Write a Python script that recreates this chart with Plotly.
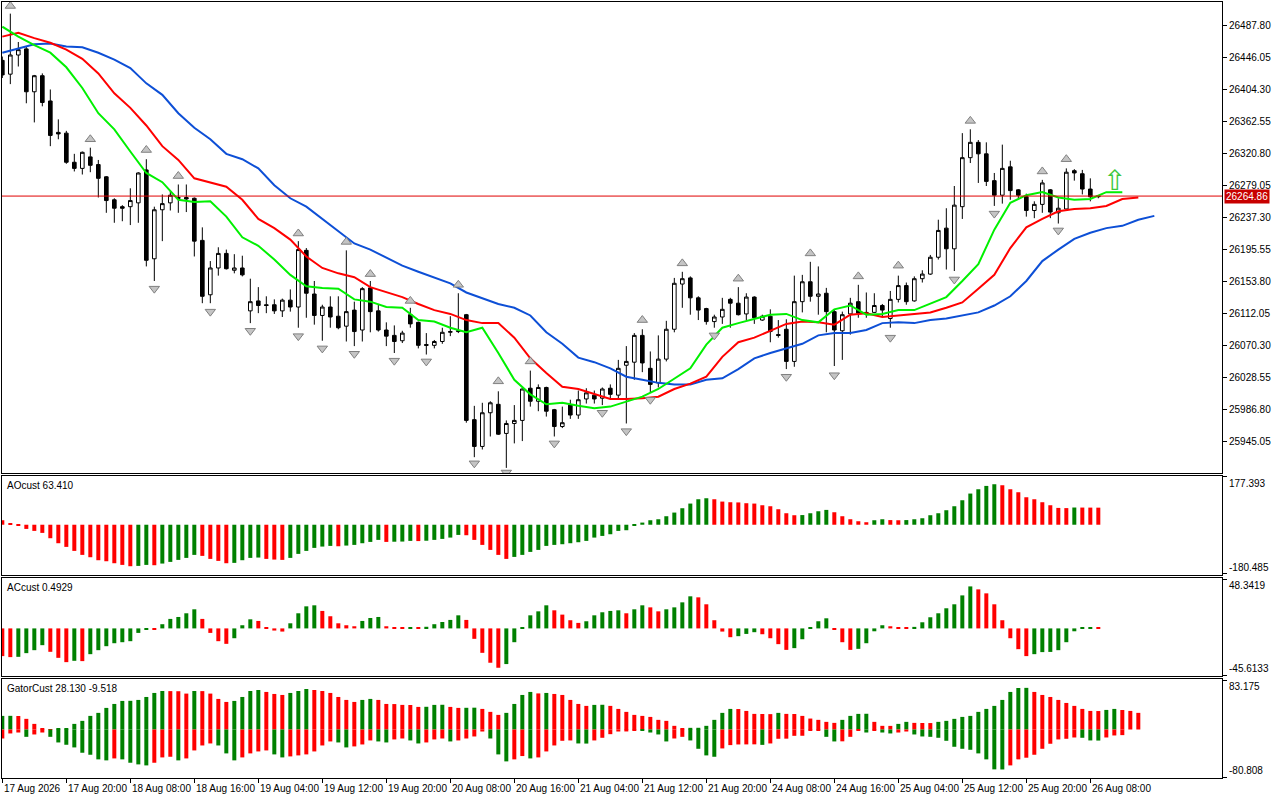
import plotly.graph_objects as go

# === price bars (H1, 138 bars) ===
open_ = [26442, 26424, 26449, 26457, 26401, 26422, 26389, 26348, 26347, 26309,
         26301, 26316, 26306, 26290, 26260, 26251, 26251, 26256, 26299, 26183,
         26247, 26256, 26263, 26263, 26262, 26207, 26136, 26171, 26190, 26168,
         26171, 26115, 26128, 26123, 26123, 26115, 26129, 26120, 26194, 26137,
         26109, 26120, 26108, 26095, 26116, 26090, 26145, 26115, 26090, 26083,
         26076, 26110, 26100, 26071, 26070, 26075, 26087, 26088, 26110, 25973,
         25938, 25982, 25993, 25955, 25968, 25972, 26014, 25997, 26015, 25986,
         25964, 25992, 25979, 26000, 26005, 26001, 26014, 26005, 26044, 26048,
         26083, 26040, 26021, 26052, 26091, 26150, 26158, 26132, 26118, 26101,
         26107, 26130, 26125, 26111, 26133, 26103, 26108, 26084, 26091, 26049,
         26127, 26153, 26134, 26138, 26114, 26089, 26111, 26127, 26113, 26113,
         26122, 26105, 26130, 26148, 26128, 26157, 26163, 26185, 26223, 26196,
         26251, 26315, 26335, 26320, 26285, 26266, 26303, 26273, 26264, 26246,
         26254, 26273, 26243, 26248, 26298, 26294, 26274, 26264]
high = [26447, 26503, 26466, 26460, 26423, 26425, 26404, 26365, 26350, 26320,
        26323, 26328, 26312, 26291, 26262, 26253, 26275, 26296, 26313, 26251,
        26267, 26272, 26280, 26280, 26263, 26224, 26180, 26198, 26195, 26189,
        26187, 26157, 26146, 26134, 26130, 26131, 26143, 26206, 26197, 26154,
        26123, 26134, 26134, 26194, 26127, 26146, 26154, 26124, 26100, 26096,
        26089, 26119, 26101, 26086, 26077, 26093, 26108, 26138, 26111, 25991,
        25995, 25997, 26010, 25972, 25992, 26014, 26037, 26019, 26016, 25987,
        25990, 25999, 26011, 26014, 26011, 26015, 26019, 26051, 26069, 26086,
        26091, 26062, 26083, 26102, 26158, 26166, 26160, 26134, 26119, 26110,
        26132, 26132, 26146, 26138, 26134, 26110, 26117, 26103, 26104, 26161,
        26162, 26179, 26173, 26145, 26116, 26114, 26132, 26149, 26139, 26138,
        26124, 26141, 26161, 26152, 26160, 26168, 26188, 26234, 26249, 26278,
        26347, 26352, 26338, 26335, 26295, 26332, 26311, 26274, 26268, 26258,
        26286, 26274, 26262, 26301, 26300, 26299, 26288, 26266]
low = [26419, 26411, 26434, 26386, 26361, 26382, 26330, 26339, 26307, 26297,
       26293, 26296, 26263, 26243, 26230, 26232, 26227, 26230, 26173, 26154,
       26206, 26246, 26243, 26244, 26186, 26125, 26125, 26161, 26169, 26164,
       26160, 26099, 26112, 26112, 26111, 26107, 26114, 26093, 26106, 26097,
       26076, 26093, 26091, 26075, 26069, 26075, 26087, 26088, 26069, 26060,
       26073, 26093, 26066, 26058, 26066, 26072, 26082, 26086, 25969, 25924,
       25934, 25951, 25953, 25910, 25942, 25945, 25990, 25984, 25977, 25951,
       25962, 25974, 25974, 25994, 25994, 25992, 26000, 26001, 25968, 26025,
       26035, 26008, 26015, 26049, 26087, 26119, 26110, 26103, 26097, 26093,
       26098, 26093, 26109, 26103, 26098, 26102, 26074, 26080, 26039, 26042,
       26113, 26127, 26110, 26087, 26043, 26051, 26084, 26106, 26106, 26112,
       26108, 26093, 26126, 26123, 26127, 26152, 26162, 26182, 26169, 26167,
       26235, 26308, 26282, 26278, 26252, 26255, 26260, 26261, 26238, 26236,
       26243, 26236, 26229, 26247, 26285, 26267, 26258, 26262]
close = [26423, 26449, 26456, 26401, 26422, 26387, 26344, 26346, 26309, 26301,
         26322, 26305, 26288, 26259, 26249, 26249, 26259, 26295, 26181, 26247,
         26255, 26266, 26262, 26261, 26206, 26134, 26171, 26190, 26170, 26171,
         26162, 26127, 26122, 26122, 26115, 26129, 26120, 26195, 26138, 26109,
         26120, 26107, 26093, 26114, 26088, 26144, 26114, 26090, 26082, 26075,
         26086, 26098, 26070, 26070, 26075, 26087, 26088, 26089, 25972, 25938,
         25982, 25995, 25954, 25968, 25972, 26013, 25997, 26015, 25984, 25964,
         25969, 25979, 25999, 26008, 26000, 26013, 26006, 26040, 26049, 26083,
         26047, 26019, 26052, 26091, 26151, 26157, 26132, 26116, 26101, 26107,
         26117, 26125, 26110, 26133, 26106, 26108, 26088, 26083, 26049, 26127,
         26153, 26134, 26137, 26114, 26090, 26110, 26125, 26112, 26112, 26122,
         26116, 26130, 26148, 26127, 26157, 26163, 26185, 26220, 26196, 26253,
         26315, 26335, 26320, 26284, 26266, 26301, 26272, 26266, 26246, 26254,
         26282, 26244, 26249, 26296, 26295, 26274, 26264, 26264.86]

# === alligator lines, read at every second bar ===
lips = [26486, 26473, 26462, 26452, 26433, 26406, 26373, 26352, 26323, 26295,
        26283, 26260, 26257, 26258, 26238, 26211, 26200, 26182, 26162, 26147,
        26145, 26144, 26130, 26127, 26120, 26119, 26103, 26101, 26093, 26087,
        26093, 26060, 26025, 26006, 25993, 25995, 25991, 25988, 25990, 25996,
        26003, 26013, 26027, 26040, 26071, 26093, 26099, 26104, 26110, 26111,
        26103, 26100, 26117, 26122, 26110, 26111, 26116, 26116, 26125, 26133,
        26154, 26176, 26221, 26256, 26266, 26270, 26263, 26260, 26261, 26270,
        26270]
teeth = [26473, 26478, 26471, 26465, 26456, 26444, 26425, 26399, 26380, 26357,
         26330, 26312, 26288, 26282, 26277, 26260, 26235, 26223, 26208, 26186,
         26171, 26164, 26159, 26146, 26140, 26133, 26124, 26116, 26111, 26103,
         26099, 26099, 26080, 26053, 26034, 26016, 26013, 26006, 26000, 26000,
         26001, 26003, 26013, 26020, 26029, 26055, 26074, 26080, 26089, 26098,
         26101, 26100, 26097, 26110, 26112, 26107, 26109, 26111, 26113, 26119,
         26126, 26144, 26162, 26197, 26224, 26235, 26245, 26248, 26249, 26252,
         26261, 26263]
jaw = [26452, 26457, 26463, 26464, 26460, 26459, 26452, 26443, 26432, 26412,
       26397, 26373, 26354, 26339, 26320, 26313, 26301, 26279, 26262, 26251,
       26235, 26218, 26203, 26195, 26184, 26174, 26166, 26158, 26151, 26139,
       26132, 26124, 26119, 26109, 26087, 26072, 26054, 26048, 26040, 26029,
       26025, 26021, 26019, 26019, 26025, 26027, 26039, 26053, 26060, 26066,
       26072, 26083, 26086, 26086, 26090, 26099, 26100, 26099, 26103, 26105,
       26109, 26113, 26122, 26134, 26154, 26180, 26195, 26209, 26217, 26223,
       26226, 26234, 26239]

# === fractals ===
frac_up_bar = [1, 11, 18, 22, 37, 43, 46, 51, 57, 62, 66, 80, 85, 92, 101, 107, 112, 121, 130, 133]
frac_up_price = [26513, 26339, 26325, 26291, 26216, 26205, 26163, 26128, 26149, 26023,
                 26049, 26103, 26177, 26157, 26190, 26160, 26174, 26363, 26297, 26313]
frac_dn_bar = [19, 26, 31, 37, 40, 44, 49, 53, 59, 63, 69, 75, 78, 81, 89, 98, 104, 111, 119, 124, 132]
frac_dn_price = [26144, 26114, 26089, 26082, 26066, 26059, 26050, 26049, 25916, 25904, 25942,
                 25982, 25958, 25999, 26083, 26029, 26031, 26080, 26156, 26242, 26220]

# === AO ===
ao = [16.7, 3.1, -4.3, -15.5, -22.9, -30.3, -50.1, -68.7, -82.3, -97.2,
      -112.0, -120.7, -131.8, -135.6, -143.0, -149.2, -154.1, -152.9, -149.2, -150.4,
      -144.2, -138.0, -130.6, -123.2, -112.0, -115.7, -126.9, -134.3, -143.0, -141.7,
      -131.8, -123.2, -121.9, -126.9, -129.4, -130.6, -123.2, -108.3, -97.2, -86.0,
      -81.1, -78.6, -79.9, -77.4, -74.9, -68.7, -63.8, -56.3, -63.8, -63.1,
      -62.5, -60.0, -60.7, -59.4, -56.3, -52.6, -47.7, -37.8, -39.0, -56.3,
      -74.9, -93.5, -112.0, -126.9, -119.5, -112.0, -100.9, -93.5, -78.6, -74.9,
      -72.4, -68.7, -65.0, -60.0, -47.7, -41.5, -35.3, -22.9, -20.4, -1.9,
      8.0, 16.7, 20.4, 31.6, 45.2, 61.3, 78.6, 94.7, 98.4, 94.7,
      86.0, 83.6, 82.9, 79.9, 78.6, 72.4, 68.7, 57.6, 42.7, 35.3,
      35.9, 42.7, 50.1, 55.1, 46.4, 31.6, 20.4, 13.0, 9.3, 16.7,
      20.4, 17.3, 16.7, 17.3, 20.4, 24.1, 35.3, 42.7, 53.9, 68.7,
      91.0, 115.8, 131.8, 144.2, 150.4, 146.7, 131.8, 120.7, 102.1, 94.7,
      83.6, 72.4, 62.5, 61.8, 64.0, 63.8, 63.6, 63.41]
ao_col = ("RRRRRRRRRRRRRRRRR" "GG" "R" "GGGGG" "RRRR" "GGGG" "RRR" "GGGGGG" "R"
          "GGGGG" "R" "GGG" "R" "GGGGG" "RRRRRR" "GGGGGGGGGGGGGGGGGGGGGGGGG"
          "RRRRRRRRRRR" "GGGG" "RRRRR" "GG" "RR" "GGGGGGGGGGGG" "RRRRRRRRR" "G" "RRR")

# === AC ===
ac = [-27.1, -28.1, -27.8, -24.2, -21.3, -16.4, -22.9, -28.8, -33.0, -31.7,
      -32.0, -25.2, -21.3, -17.4, -14.5, -13.5, -12.5, -4.4, -0.8, -1.0,
      4.1, 9.3, 11.2, 14.8, 18.7, 9.3, -4.4, -12.5, -15.1, -9.6,
      3.1, 8.9, 7.3, 1.1, -2.1, -3.1, 5.0, 14.8, 21.6, 22.6,
      17.1, 11.9, 5.0, 3.1, 2.1, 7.3, 10.2, 11.2, 2.1, 1.2,
      1.0, 1.1, 1.0, 1.6, 4.1, 6.3, 8.3, 12.8, 8.3, -10.2,
      -23.9, -33.6, -38.5, -34.9, -13.5, 1.2, 12.8, 16.7, 22.6, 17.7,
      13.5, 8.0, 5.4, 7.0, 12.8, 15.8, 17.1, 17.7, 14.8, 18.7,
      22.6, 20.6, 16.7, 18.7, 20.6, 25.5, 31.4, 30.4, 23.6, 8.0,
      -3.1, -8.6, -7.6, -5.4, -3.7, -5.7, -9.6, -15.4, -21.0, -19.3,
      -10.6, 1.0, 7.0, 9.9, -1.0, -13.5, -21.0, -20.0, -14.5, -2.8,
      3.1, 2.1, 1.2, 0.8, 1.5, 6.0, 10.9, 14.8, 19.7, 23.6,
      32.3, 41.1, 38.2, 34.3, 23.6, 8.0, -9.6, -20.3, -27.1, -25.2,
      -23.2, -23.0, -21.3, -13.5, -2.8, 0.8, 1.2, 0.4929]
ac_col = ("RRGGGGRRRGR" "GGGGGGGG" "R" "GGGGG" "RRRR" "GGG" "RRRR" "GGGG" "RRRRR"
          "GGG" "RRR" "G" "R" "GGGGG" "RRRRR" "GGGGGG" "RRRR" "GGGGG" "R" "GG" "RR"
          "GGGG" "RRRRR" "GGG" "RRRR" "GGGGG" "RRR" "GGGG" "RRR" "GGGGGGGG"
          "RRRRRRR" "GGGGGGGG" "R")

# === Gator ===
gator_up = [23.0, 23.1, 22.8, 18.0, 9.5, 1.1, 0.5, 1.1, 1.5, 9.5,
            14.6, 23.0, 28.1, 36.5, 43.2, 48.3, 48.5, 50.0, 55.0, 61.8,
            65.1, 64.9, 64.7, 60.7, 65.1, 64.9, 60.7, 51.7, 46.6, 48.3,
            55.0, 65.1, 66.8, 63.5, 60.1, 58.4, 61.8, 65.1, 68.5, 66.8,
            65.1, 61.8, 55.0, 50.0, 46.6, 50.0, 51.7, 50.0, 43.2, 43.0,
            41.6, 41.4, 38.2, 38.4, 41.6, 41.8, 38.2, 36.5, 36.7, 36.9,
            34.8, 29.8, 24.7, 28.1, 43.2, 58.4, 63.5, 61.0, 61.8, 60.1,
            58.4, 50.0, 43.2, 39.9, 41.6, 41.8, 39.9, 34.8, 29.8, 24.7,
            23.0, 21.3, 16.3, 14.6, 6.2, 1.7, 2.8, 2.9, 6.2, 16.3,
            28.1, 34.8, 34.6, 31.4, 26.4, 26.2, 26.0, 28.1, 26.4, 26.2,
            23.0, 18.5, 16.3, 12.9, 11.2, 16.3, 23.0, 26.4, 26.6, 12.9,
            6.2, 6.1, 9.5, 12.9, 11.2, 11.0, 10.9, 12.9, 14.6, 18.0,
            21.3, 23.0, 29.8, 34.8, 39.9, 50.0, 63.5, 70.2, 70.4, 63.5,
            58.4, 55.0, 50.0, 44.9, 39.9, 34.8, 31.4, 31.2, 33.1, 34.8,
            33.0, 31.4, 28.13]
gator_up_col = ("GG" "RRRRR" "GGGGGGGGGGGGGG" "RRR" "G" "RRRR" "GGGG" "RRR" "GGG"
                "RRRRRR" "GG" "RRRRRR" "GGG" "RR" "GG" "RRR" "GGGG" "R" "G" "RRRRR"
                "GG" "RRRRRRRRRR" "GGGGGG" "RRRRR" "G" "RRRRRRR" "GGGG" "RRR" "GG"
                "RRR" "GGGGGGGGGGGG" "RRRRRRRRR" "GG" "RRR")
gator_dn = [-15.2, -6.7, -5.1, -12.4, -8.4, -5.1, -12.4, -21.9, -25.8, -30.3,
            -39.3, -42.7, -50.5, -52.2, -48.9, -50.5, -56.2, -59.0, -60.7, -56.2,
            -47.2, -46.1, -52.2, -48.9, -35.4, -27.0, -23.6, -27.0, -40.4, -52.2,
            -47.2, -40.4, -37.1, -35.4, -42.1, -47.2, -45.5, -43.8, -42.1, -37.1,
            -27.0, -20.2, -21.9, -30.3, -28.6, -25.3, -18.5, -20.2, -21.9, -16.8,
            -15.2, -18.5, -23.6, -21.9, -16.8, -15.2, -20.2, -18.5, -15.2, -11.8,
            -3.4, -15.2, -42.1, -53.9, -50.5, -44.9, -48.9, -47.2, -37.1, -27.0,
            -19.1, -18.5, -23.6, -23.8, -18.5, -14.0, -7.9, -3.4, -3.3, -1.1,
            -1.2, -5.1, -8.4, -20.2, -15.2, -12.4, -18.5, -32.6, -43.8, -46.1,
            -32.0, -26.4, -25.3, -25.2, -25.1, -26.0, -23.6, -15.7, -15.5, -10.7,
            -10.6, -2.2, -2.1, -12.4, -20.2, -20.0, -12.4, -2.2, -5.1, -2.2,
            -5.1, -6.7, -5.1, -3.4, -8.4, -11.8, -12.4, -14.0, -19.1, -29.2,
            -32.6, -34.3, -40.4, -50.5, -67.4, -67.6, -60.7, -50.5, -47.7, -42.7,
            -32.6, -24.1, -16.8, -15.7, -13.5, -14.0, -18.5, -18.7, -13.5, -10.1,
            -9.518]
gator_dn_col = ("RRR" "G" "RR" "GGGGGGGG" "R" "GGGG" "RRR" "G" "RRRR" "GGG" "RRRR" "GG"
                "RRRRRR" "GG" "RRR" "GG" "RR" "GG" "RRR" "G" "RRRR" "GGG" "RR" "G"
                "RRRRR" "GG" "RRRRRR" "GGGG" "RR" "GGGG" "RRRRR" "G" "RRRRRRR" "GG"
                "RRR" "G" "R" "GG" "RR" "GGGGGGGGGGGG" "RRRRRRRRR" "GGG" "RRR")

# === axes text ===
time_labels = ["17 Aug 2026", "17 Aug 20:00", "18 Aug 08:00", "18 Aug 16:00", "19 Aug 04:00",
               "19 Aug 12:00", "19 Aug 20:00", "20 Aug 08:00", "20 Aug 16:00", "21 Aug 04:00",
               "21 Aug 12:00", "21 Aug 20:00", "24 Aug 08:00", "24 Aug 16:00", "25 Aug 04:00",
               "25 Aug 12:00", "25 Aug 20:00", "26 Aug 08:00"]
price_ticks = [26487.80, 26446.05, 26404.30, 26362.55, 26320.80, 26279.05, 26237.30,
               26195.55, 26153.80, 26112.05, 26070.30, 26028.55, 25986.80, 25945.05]
bid = 26264.86
signal_bar, signal_price = 139, 26285

GREEN = "#008000"
RED = "#ff0000"
FONT = "Liberation Sans, Arial, sans-serif"


def cols(s):
    return [GREEN if c == "G" else RED for c in s]


fig = go.Figure()
bars = list(range(len(close)))

fig.add_trace(go.Candlestick(
    x=bars, open=open_, high=high, low=low, close=close,
    increasing=dict(line=dict(color="black", width=1), fillcolor="white"),
    decreasing=dict(line=dict(color="black", width=1), fillcolor="black"),
    whiskerwidth=0, hoverinfo="skip", showlegend=False))

for vals, col in ((jaw, "#0d4fd6"), (teeth, "#ff0000"), (lips, "#00f000")):
    fig.add_trace(go.Scatter(x=list(range(0, 2 * len(vals), 2)), y=vals, mode="lines",
                             line=dict(color=col, width=2), hoverinfo="skip", showlegend=False))

fig.add_trace(go.Scatter(x=frac_up_bar, y=frac_up_price, mode="markers",
                         marker=dict(symbol="triangle-up", size=9, color="#c4c4c4",
                                     line=dict(color="#808080", width=1)),
                         hoverinfo="skip", showlegend=False))
fig.add_trace(go.Scatter(x=frac_dn_bar, y=frac_dn_price, mode="markers",
                         marker=dict(symbol="triangle-down", size=9, color="#c4c4c4",
                                     line=dict(color="#808080", width=1)),
                         hoverinfo="skip", showlegend=False))

fig.add_trace(go.Bar(x=bars, y=ao, width=0.5, marker=dict(color=cols(ao_col), line=dict(width=0)),
                     xaxis="x2", yaxis="y2", hoverinfo="skip", showlegend=False))
fig.add_trace(go.Bar(x=bars, y=ac, width=0.5, marker=dict(color=cols(ac_col), line=dict(width=0)),
                     xaxis="x3", yaxis="y3", hoverinfo="skip", showlegend=False))
fig.add_trace(go.Bar(x=list(range(len(gator_up))), y=gator_up, width=0.5,
                     marker=dict(color=cols(gator_up_col), line=dict(width=0)),
                     xaxis="x4", yaxis="y4", hoverinfo="skip", showlegend=False))
fig.add_trace(go.Bar(x=list(range(len(gator_dn))), y=gator_dn, width=0.5,
                     marker=dict(color=cols(gator_dn_col), line=dict(width=0)),
                     xaxis="x4", yaxis="y4", hoverinfo="skip", showlegend=False))

# layout
box = dict(showgrid=False, zeroline=False, showline=True, mirror=True,
           linecolor="black", linewidth=1)
xr = [-0.04, 152.46]
doms = {"y": [0.3930, 1.0], "y2": [0.2616, 0.3892], "y3": [0.1314, 0.2577], "y4": [0.0, 0.1276]}

fig.update_layout(
    width=1280, height=800,
    margin=dict(l=2, r=58, t=2, b=22),
    paper_bgcolor="white", plot_bgcolor="white",
    font=dict(family=FONT, size=10, color="black"),
    barmode="overlay", boxgap=0.35,
    xaxis=dict(domain=[0, 1], anchor="y", range=xr, showticklabels=False, ticks="",
               rangeslider=dict(visible=False), **box),
    xaxis2=dict(domain=[0, 1], anchor="y2", range=xr, matches="x", showticklabels=False, ticks="", **box),
    xaxis3=dict(domain=[0, 1], anchor="y3", range=xr, matches="x", showticklabels=False, ticks="", **box),
    xaxis4=dict(domain=[0, 1], anchor="y4", range=xr, matches="x", showticklabels=False,
                tickvals=list(range(0, 8 * len(time_labels), 8)), ticks="outside", ticklen=4,
                tickcolor="black", **box),
    yaxis=dict(domain=doms["y"], anchor="x", side="right", range=[25903.3, 26518.2],
               tickvals=price_ticks, tickformat=".2f", ticks="outside", ticklen=4,
               tickcolor="black", tickfont=dict(size=10), **box),
    yaxis2=dict(domain=doms["y2"], anchor="x2", side="right", range=[-186.7, 181.1],
                tickvals=[177.393, -180.485], ticks="outside", ticklen=4, tickcolor="black",
                showticklabels=False, **box),
    yaxis3=dict(domain=doms["y3"], anchor="x3", side="right", range=[-46.6, 49.3],
                tickvals=[48.3419, -45.6133], ticks="outside", ticklen=4, tickcolor="black",
                showticklabels=False, **box),
    yaxis4=dict(domain=doms["y4"], anchor="x4", side="right", range=[-82.0, 85.4],
                tickvals=[83.175, -80.808], ticks="outside", ticklen=4, tickcolor="black",
                showticklabels=False, **box),
)

fig.add_shape(type="line", xref="paper", x0=0, x1=1, yref="y", y0=bid, y1=bid,
              line=dict(color="#e00000", width=1))

ann = []
ann.append(dict(x=1, xref="paper", xanchor="left", xshift=2, y=bid, yref="y", yanchor="middle",
                text="26264.86", showarrow=False, bgcolor="#c80000", borderpad=1,
                font=dict(color="white", size=10)))
ann.append(dict(x=signal_bar, y=signal_price, xref="x", yref="y", text="\u21e7", showarrow=False,
                font=dict(family="DejaVu Sans", size=28, color="#3cc83c")))

panel_text = [("y2", "AOcust 63.410", "177.393", "-180.485"),
              ("y3", "ACcust 0.4929", "48.3419", "-45.6133"),
              ("y4", "GatorCust 28.130 -9.518", "83.175", "-80.808")]
for yk, title, top, bot in panel_text:
    lo, hi = doms[yk]
    ann.append(dict(x=0, xref="paper", xanchor="left", xshift=3, y=hi, yref="paper",
                    yanchor="top", yshift=-2, text=title, showarrow=False, font=dict(size=10)))
    ann.append(dict(x=1, xref="paper", xanchor="left", xshift=5, y=hi, yref="paper",
                    yanchor="top", text=top, showarrow=False, font=dict(size=10)))
    ann.append(dict(x=1, xref="paper", xanchor="left", xshift=5, y=lo, yref="paper",
                    yanchor="bottom", text=bot, showarrow=False, font=dict(size=10)))

for k, lab in enumerate(time_labels):
    ann.append(dict(x=8 * k, xref="x4", xanchor="left", y=-0.013, yref="paper", yanchor="middle",
                    text=lab, showarrow=False, font=dict(size=10)))

fig.update_layout(annotations=ann)

# the page body has a default 8px margin; drop it so the figure sits at the window corner
fig.write_html("out.html", config={"displayModeBar": False},
               post_script="document.body.style.margin='0';")
